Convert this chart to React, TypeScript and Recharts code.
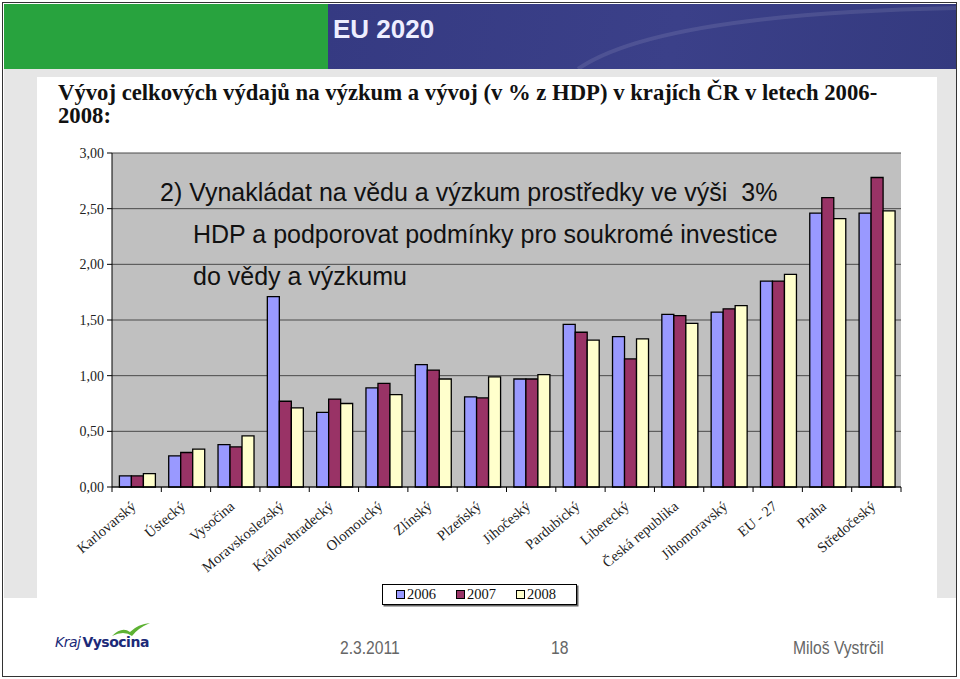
import React from 'react';
import { BarChart, Bar, XAxis, YAxis, CartesianGrid } from 'recharts';

const categories = [
  'Karlovarský', 'Ústecký', 'Vysočina', 'Moravskoslezský', 'Královehradecký', 'Olomoucký',
  'Zlínský', 'Plzeňský', 'Jihočeský', 'Pardubický', 'Liberecký', 'Česká republika',
  'Jihomoravský', 'EU - 27', 'Praha', 'Středočeský',
];
const values2006 = [0.10, 0.28, 0.38, 1.71, 0.67, 0.89, 1.10, 0.81, 0.97, 1.46, 1.35, 1.55, 1.57, 1.85, 2.46, 2.46];
const values2007 = [0.10, 0.31, 0.36, 0.77, 0.79, 0.93, 1.05, 0.80, 0.97, 1.39, 1.15, 1.54, 1.60, 1.85, 2.60, 2.78];
const values2008 = [0.12, 0.34, 0.46, 0.71, 0.75, 0.83, 0.97, 0.99, 1.01, 1.32, 1.33, 1.47, 1.63, 1.91, 2.41, 2.48];
const years = ['2006', '2007', '2008'];
const yearColors = ['#9999ff', '#993366', '#ffffcc'];
const yTicks = [0, 0.5, 1, 1.5, 2, 2.5, 3];

const chartTitle = 'Vývoj celkových výdajů na výzkum a vývoj (v % z HDP) v krajích ČR v letech 2006-';
const chartTitle2 = '2008:';
const goalLines = [
  '2) Vynakládat na vědu a výzkum prostředky ve výši  3%',
  'HDP a podporovat podmínky pro soukromé investice',
  'do vědy a výzkumu',
];

const data = categories.map((name, i) => ({
  name,
  y2006: values2006[i],
  y2007: values2007[i],
  y2008: values2008[i],
}));

const SERIF = '"Liberation Serif", "Times New Roman", serif';
const SANS = '"Liberation Sans", Arial, sans-serif';

// label rotated like Excel, plus tick marks on the category boundaries
const CategoryTick = ({ x, y, payload, index }: any) => {
  const half = payload.offset || 0;
  const last = index === categories.length - 1;
  return (
    <g>
      <line x1={x - half} x2={x - half} y1={y} y2={y + 5} stroke="#000" />
      {last && <line x1={x + half} x2={x + half} y1={y} y2={y + 5} stroke="#000" />}
      <text
        x={x - 3}
        y={y + 17}
        transform={`rotate(-40, ${x - 3}, ${y + 17})`}
        textAnchor="end"
        dy="0.35em"
        fontFamily={SERIF}
        fontSize={14.5}
        fill="#222"
      >
        {payload.value}
      </text>
    </g>
  );
};

const footerText: React.CSSProperties = {
  position: 'absolute',
  top: 638,
  fontFamily: SANS,
  fontSize: 18,
  color: '#666',
  transform: 'scaleX(0.87)',
  transformOrigin: 'left center',
  whiteSpace: 'nowrap',
};

export default function App() {
  return (
    <div style={{ position: 'absolute', left: 0, top: 0, width: 960, height: 679, background: '#fff', overflow: 'hidden' }}>
      {/* slide frame */}
      <div style={{ position: 'absolute', left: 2, top: 2, width: 953, height: 673, border: '1.5px solid #333' }} />
      <div style={{ position: 'absolute', left: 4, top: 4, width: 324, height: 65, background: '#28a33e' }} />
      <div style={{ position: 'absolute', left: 328, top: 4, width: 628, height: 65, background: 'linear-gradient(100deg, #353a82 0%, #3b4089 55%, #343a7f 100%)' }} />
      <svg style={{ position: 'absolute', left: 328, top: 4 }} width={628} height={65}>
        <path d="M 250 65 Q 330 10 628 4" stroke="rgba(255,255,255,0.10)" strokeWidth={4} fill="none" />
      </svg>
      <div style={{ position: 'absolute', left: 333, top: 14, fontFamily: SANS, fontWeight: 'bold', fontSize: 26, color: '#eef' }}>EU 2020</div>
      <div style={{ position: 'absolute', left: 4, top: 69, width: 952, height: 529, background: '#e6e6e6' }} />
      <div style={{ position: 'absolute', left: 37, top: 77, width: 900, height: 521, background: '#fff' }} />

      {/* title */}
      <div style={{ position: 'absolute', left: 58, top: 81, fontFamily: SERIF, fontWeight: 'bold', fontSize: 22.7, lineHeight: '23px', color: '#111', whiteSpace: 'nowrap' }}>
        {chartTitle}
        <br />
        {chartTitle2}
      </div>

      {/* chart */}
      <div style={{ position: 'absolute', left: 37, top: 77 }}>
        <BarChart
          width={900}
          height={521}
          data={data}
          margin={{ top: 76, right: 36, bottom: 0, left: 0 }}
          barCategoryGap="15%"
          barGap={0}
        >
          <CartesianGrid vertical={false} stroke="#4a4a4a" fill="#c0c0c0" fillOpacity={1} />
          <XAxis
            dataKey="name"
            interval={0}
            height={111}
            tickLine={false}
            tickSize={0}
            tickMargin={0}
            axisLine={{ stroke: '#000' }}
            tick={<CategoryTick />}
          />
          <YAxis
            domain={[0, 3]}
            ticks={yTicks}
            width={75}
            tickSize={5}
            tickMargin={3}
            axisLine={{ stroke: '#000' }}
            tickLine={{ stroke: '#000' }}
            tickFormatter={(v: number) => v.toFixed(2).replace('.', ',')}
            tick={{ fontFamily: SERIF, fontSize: 14, fill: '#222' }}
          />
          {years.map((yr, i) => (
            <Bar
              key={yr}
              dataKey={`y${yr}`}
              name={yr}
              fill={yearColors[i]}
              stroke="#000"
              strokeWidth={1.3}
              isAnimationActive={false}
            />
          ))}
        </BarChart>
      </div>

      {/* goal text overlay */}
      {goalLines.map((line, i) => (
        <div
          key={i}
          style={{
            position: 'absolute',
            left: i === 0 ? 160 : 193,
            top: 177 + i * 42,
            fontFamily: SANS,
            fontSize: 25,
            lineHeight: '30px',
            color: '#111',
            whiteSpace: 'pre',
          }}
        >
          {line}
        </div>
      ))}

      {/* legend */}
      <div style={{ position: 'absolute', left: 382, top: 584, width: 195, height: 21, border: '1px solid #000', boxShadow: '1.5px 1.5px 0 #666', background: '#fff', display: 'flex', alignItems: 'center', paddingLeft: 13, boxSizing: 'border-box' }}>
        {years.map((yr, i) => (
          <div key={yr} style={{ display: 'flex', alignItems: 'center', width: 65.5 }}>
            <span style={{ display: 'inline-block', width: 7, height: 7, border: '1px solid #000', background: yearColors[i], marginRight: 2 }} />
            <span style={{ fontFamily: SERIF, fontSize: 14.5, color: '#111' }}>{yr}</span>
          </div>
        ))}
      </div>

      {/* footer */}
      <svg style={{ position: 'absolute', left: 108, top: 620 }} width={45} height={22}>
        <path d="M 4 16 Q 14 6 22 12 Q 30 4 42 3 Q 30 8 24 16 Q 16 10 4 16 Z" fill="#5db233" />
      </svg>
      <div style={{ position: 'absolute', left: 55, top: 634, fontFamily: '"DejaVu Sans", sans-serif', fontSize: 14, color: '#1c2a78', whiteSpace: 'nowrap', letterSpacing: -0.5 }}>
        <span style={{ fontWeight: 'normal', fontStyle: 'italic' }}>Kraj</span>
        <span style={{ fontWeight: 'bold', marginLeft: 2 }}>Vysocina</span>
      </div>
      <div style={{ ...footerText, left: 340 }}>2.3.2011</div>
      <div style={{ ...footerText, left: 551 }}>18</div>
      <div style={{ ...footerText, left: 793 }}>Miloš Vystrčil</div>
    </div>
  );
}
